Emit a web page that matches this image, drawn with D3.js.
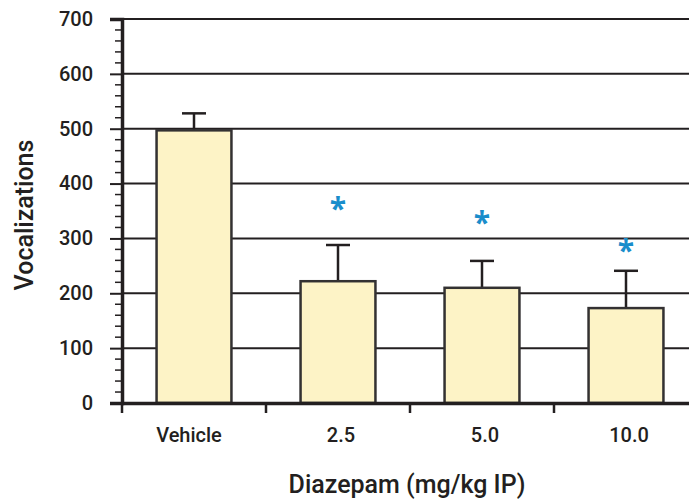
<!DOCTYPE html>
<html><head><meta charset="utf-8">
<script src="https://cdn.jsdelivr.net/npm/d3@7"></script>
<style>body{margin:0;background:#fff}</style>
</head><body>
<svg id="c" width="689" height="502"></svg>
<script>
const categories = ["Vehicle", "2.5", "5.0", "10.0"];
const means = [497, 222, 210, 173];
const errorsUp = [31, 66, 49, 68];
const significant = [false, true, true, true];
const asteriskValues = [null, 359, 334, 283];
const yTicks = [0, 100, 200, 300, 400, 500, 600, 700];

const svg = d3.select("#c");
const mLeft = 122, mRight = 698, mTop = 19, mBottom = 403;
const x = d3.scaleBand().domain(categories).range([mLeft, mRight]).paddingInner(0.48).paddingOuter(0.24);
const xb = d3.scaleBand().domain(categories).range([mLeft, mRight]);
const y = d3.scaleLinear().domain([0, 700]).range([mBottom, mTop]);
const font = "Roboto, 'DejaVu Sans', sans-serif";

// gridlines
svg.append("g").selectAll("line").data(yTicks.filter(d => d > 0)).join("line")
  .attr("x1", mLeft).attr("x2", 689).attr("y1", d => y(d)).attr("y2", d => y(d))
  .attr("stroke", "#231f20").attr("stroke-width", 2);

// minor ticks
const minor = d3.range(0, 701, 20).filter(d => d % 100 !== 0);
svg.append("g").selectAll("line").data(minor).join("line")
  .attr("x1", mLeft - 7).attr("x2", mLeft).attr("y1", d => y(d)).attr("y2", d => y(d))
  .attr("stroke", "#231f20").attr("stroke-width", 1.5);

// y axis
const yAxis = svg.append("g").attr("transform", `translate(${mLeft},0)`)
  .call(d3.axisLeft(y).tickValues(yTicks).tickSize(12).tickPadding(17));
yAxis.select(".domain").attr("stroke", "#231f20").attr("stroke-width", 3.5);
yAxis.selectAll(".tick line").attr("stroke", "#231f20").attr("stroke-width", 2);
yAxis.selectAll(".tick text").attr("font-family", font).attr("font-size", 20).attr("font-weight", 500).attr("fill", "#231f20");

// error bars
const eb = svg.append("g");
categories.forEach((c, i) => {
  const cx = x(c) + x.bandwidth() / 2;
  eb.append("line").attr("x1", cx).attr("x2", cx).attr("y1", y(means[i])).attr("y2", y(means[i] + errorsUp[i]))
    .attr("stroke", "#231f20").attr("stroke-width", 2.5);
  eb.append("line").attr("x1", cx - 12).attr("x2", cx + 12).attr("y1", y(means[i] + errorsUp[i])).attr("y2", y(means[i] + errorsUp[i]))
    .attr("stroke", "#231f20").attr("stroke-width", 2.5);
});

// bars
svg.append("g").selectAll("rect").data(categories).join("rect")
  .attr("x", d => x(d)).attr("width", x.bandwidth())
  .attr("y", (d, i) => y(means[i])).attr("height", (d, i) => mBottom - y(means[i]))
  .attr("fill", "#fdf3c6").attr("stroke", "#333132").attr("stroke-width", 2.5);

// x axis
const xAxis = svg.append("g").attr("transform", `translate(0,${mBottom})`)
  .call(d3.axisBottom(xb).tickSize(0).tickPadding(25));
xAxis.select(".domain").attr("stroke", "#231f20").attr("stroke-width", 3.5);
xAxis.selectAll(".tick text").attr("font-family", font).attr("font-size", 20).attr("font-weight", 500).attr("fill", "#231f20")
  .attr("dx", (d, i) => i === 0 ? -5 : 3);
svg.append("g").selectAll("line").data(categories).join("line")
  .attr("x1", d => xb(d)).attr("x2", d => xb(d)).attr("y1", mBottom).attr("y2", mBottom + 10)
  .attr("stroke", "#231f20").attr("stroke-width", 2.5);

// asterisks
svg.append("g").selectAll("text").data(categories.filter((c, i) => significant[i])).join("text")
  .attr("x", d => x(d) + x.bandwidth() / 2)
  .attr("y", d => y(asteriskValues[categories.indexOf(d)]) + 13)
  .attr("text-anchor", "middle").attr("font-family", "'Open Sans', sans-serif").attr("font-size", 30).attr("font-weight", 700)
  .attr("fill", "#1a8dcb").text("*");

// titles
svg.append("text").attr("x", 407).attr("y", 493).attr("text-anchor", "middle")
  .attr("font-family", font).attr("font-size", 25).attr("font-weight", 500).attr("fill", "#231f20")
  .text("Diazepam (mg/kg IP)");
svg.append("text").attr("transform", "translate(33,215) rotate(-90)").attr("text-anchor", "middle")
  .attr("font-family", font).attr("font-size", 25).attr("font-weight", 500).attr("fill", "#231f20")
  .text("Vocalizations");
</script>
</body></html>
